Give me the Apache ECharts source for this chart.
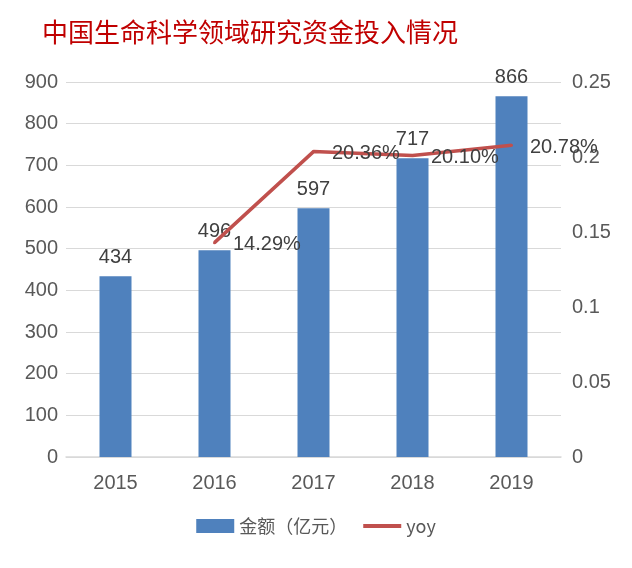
<!DOCTYPE html>
<html lang="zh-CN">
<head>
    <meta charset="UTF-8">
    <title>中国生命科学领域研究资金投入情况</title>
    <script src="https://cdn.jsdelivr.net/npm/echarts@6/dist/echarts.min.js"></script>
    <style>
        body {
            margin: 0;
            background-color: #ffffff;
        }
        #chart {
            width: 632px;
            height: 568px;
        }
    </style>
</head>
<body>
<div id="chart"></div>

<script>
    // 数据
    const years = ['2015', '2016', '2017', '2018', '2019'];
    const amounts = [434, 496, 597, 717, 866];
    const yoyValues = [null, 0.1429, 0.2036, 0.2010, 0.2078];
    const leftTicks = [0, 900, 100];
    const rightTicks = [0, 0.25, 0.05];

    const labelFont = '"Liberation Sans", Arial, sans-serif';
    const textColor = '#595959';

    const myChart = echarts.init(document.getElementById('chart'));
    const option = {
        animation: false,
        title: {
            text: '中国生命科学领域研究资金投入情况',
            left: 37,
            top: 14,
            textStyle: {
                fontFamily: '"Noto Sans CJK SC", sans-serif',
                fontSize: 26,
                fontWeight: 'normal',
                color: '#C00000'
            }
        },
        legend: {
            bottom: 28,
            left: 'center',
            itemWidth: 38,
            itemHeight: 14,
            itemGap: 16,
            textStyle: {
                fontFamily: '"Noto Sans CJK SC", sans-serif',
                fontSize: 18,
                color: textColor
            },
            data: [
                { name: '金额（亿元）', icon: 'rect' },
                {
                    name: 'yoy',
                    icon: 'path://M0,0 L40,0 L40,4 L0,4 Z',
                    itemStyle: { color: '#C0504D' }
                }
            ]
        },
        grid: {
            left: 66,
            right: 71,
            top: 82,
            bottom: 111
        },
        xAxis: {
            type: 'category',
            data: years,
            axisTick: { show: false },
            axisLine: {
                lineStyle: { color: '#d9d9d9', width: 1.5 }
            },
            axisLabel: {
                fontFamily: labelFont,
                fontSize: 20,
                color: textColor,
                margin: 16
            }
        },
        yAxis: [
            {
                type: 'value',
                min: leftTicks[0],
                max: leftTicks[1],
                interval: leftTicks[2],
                axisLine: { show: false },
                axisTick: { show: false },
                axisLabel: {
                    fontFamily: labelFont,
                    fontSize: 20,
                    color: textColor,
                    margin: 8
                },
                splitLine: {
                    lineStyle: { color: '#d9d9d9', width: 1 }
                }
            },
            {
                type: 'value',
                min: rightTicks[0],
                max: rightTicks[1],
                interval: rightTicks[2],
                axisLine: { show: false },
                axisTick: { show: false },
                splitLine: { show: false },
                axisLabel: {
                    fontFamily: labelFont,
                    fontSize: 20,
                    color: textColor,
                    margin: 11
                }
            }
        ],
        series: [
            {
                name: '金额（亿元）',
                type: 'bar',
                barWidth: 32,
                data: amounts,
                itemStyle: { color: '#4F81BD' },
                label: {
                    show: true,
                    position: 'top',
                    distance: 9,
                    fontFamily: labelFont,
                    fontSize: 20,
                    color: '#404040'
                }
            },
            {
                name: 'yoy',
                type: 'line',
                yAxisIndex: 1,
                data: yoyValues,
                symbol: 'circle',
                symbolSize: 3,
                showSymbol: true,
                lineStyle: { color: '#C0504D', width: 3.5 },
                itemStyle: { color: '#C0504D' },
                label: {
                    show: true,
                    position: 'right',
                    distance: 17,
                    offset: [0, 2],
                    fontFamily: labelFont,
                    fontSize: 20,
                    color: '#404040',
                    formatter: p => (p.value * 100).toFixed(2) + '%'
                }
            }
        ]
    };
    myChart.setOption(option);
</script>
</body>
</html>
